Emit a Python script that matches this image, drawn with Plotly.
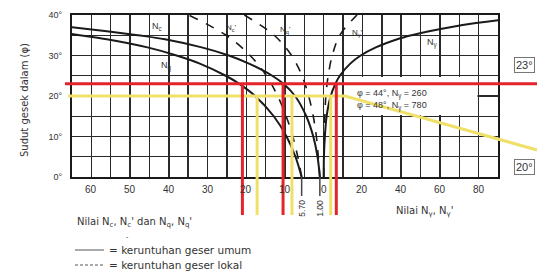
import plotly.graph_objects as go

# ---------------- data ----------------
phi_gen = [0, 5, 10, 15, 20, 23, 25, 28, 30, 32, 34, 35, 36, 37, 38, 39, 40]
Nc_gen = [5.7, 7.3, 9.6, 12.9, 17.7, 21.8, 25.3, 32.0, 38.0, 45.5, 56.0, 63.0, 70.0, 78.0, 86.0, 94.0, 102.0]
Nq_gen = [1.0, 1.6, 2.7, 4.5, 7.4, 10.4, 13.3, 19.3, 24.5, 31.5, 41.0, 48.0, 56.0, 65.0, 75.0, 85.0, 95.0]
Ng_gen = [0.0, 0.1, 0.6, 1.5, 3.6, 6.0, 8.3, 13.7, 19.1, 26.9, 38.0, 45.4, 54.4, 65.3, 78.6, 95.0, 115.3]

phi_loc = [0, 5, 10, 15, 20, 25, 30, 35, 40]
Nc_loc = [5.7, 6.7, 8.0, 9.7, 11.9, 14.8, 19.0, 25.2, 34.9]
Nq_loc = [1.0, 1.4, 1.9, 2.7, 3.9, 5.6, 8.3, 12.8, 20.5]
Ng_loc = [0.0, 0.07, 0.24, 0.57, 1.1, 2.3, 4.4, 8.3, 17.2]

# highlighted readings (red = 23 deg, yellow = 20 deg)
phi_sel = [23, 20]
Nc_sel = [21.0, 17.2]
Nq_sel = [10.5, 8.2]
Ng_sel = [6.5, 3.6]
sel_labels = ["23°", "20°"]

left_ticks = [60, 50, 40, 30, 20, 10, 0]
right_ticks = [20, 40, 60, 80]
special_ticks = [5.70, 1.00]
y_ticks = [0, 10, 20, 30, 40]

# ---------------- layout geometry ----------------
W, H = 547, 273
PX_L, PX_R, PY_T, PY_B = 72, 498, 15, 177
X_RANGE = [-65, 45]   # left half: -N (Nc, Nq); right half: N_gamma / 2
Y_RANGE = [0, 40]
xdom = [PX_L / W, PX_R / W]
ydom = [1 - PY_B / H, 1 - PY_T / H]


def uL(n):  # Nc / Nq value -> chart coordinate
    return -n


def uR(n):  # N_gamma value -> chart coordinate
    return n / 2.0


def xpap(u):
    return xdom[0] + (u - X_RANGE[0]) / (X_RANGE[1] - X_RANGE[0]) * (xdom[1] - xdom[0])


def ypap(phi):
    return ydom[0] + (phi - Y_RANGE[0]) / (Y_RANGE[1] - Y_RANGE[0]) * (ydom[1] - ydom[0])


RED = "#e3242b"
YEL = "#efe06a"
INK = "#1a1a1a"
FONT = "Liberation Sans"
FONT2 = "DejaVu Sans"

fig = go.Figure()


def curve(xs, ys, dash, width):
    fig.add_trace(go.Scatter(x=xs, y=ys, mode="lines", line_shape="spline",
                             line=dict(color=INK, width=width, dash=dash),
                             hoverinfo="skip", showlegend=False))


curve([uL(v) for v in Nc_gen], phi_gen, "solid", 2)
curve([uL(v) for v in Nq_gen], phi_gen, "solid", 2)
curve([uR(v) for v in Ng_gen], phi_gen, "solid", 2)
curve([uL(v) for v in Nc_loc], phi_loc, "dash", 1.6)
curve([uL(v) for v in Nq_loc], phi_loc, "dash", 1.6)
curve([uR(v) for v in Ng_loc], phi_loc, "dash", 1.6)

shapes = []
# white box under the phi=44/48 note (hides grid)
shapes.append(dict(type="rect", xref="x", yref="y", x0=uR(10.6), x1=uR(79.4), y0=15.3, y1=24.7,
                   fillcolor="white", line=dict(width=0), layer="between"))

# small ticks for 5.70 and 1.00 below the axis
for v in special_ticks:
    shapes.append(dict(type="line", xref="x", yref="paper", x0=uL(v), x1=uL(v),
                       y0=1 - 177 / H, y1=1 - 196 / H, line=dict(color="#444", width=1.5)))

# red guide (23 deg)
shapes.append(dict(type="line", xref="paper", yref="y", x0=65 / W, x1=537 / W,
                   y0=phi_sel[0], y1=phi_sel[0], line=dict(color=RED, width=3)))
# yellow guide (20 deg) -> leader to label
xc = xpap(uR(11))
shapes.append(dict(type="path", xref="paper", yref="paper",
                   path=f"M {68 / W} {ypap(phi_sel[1])} L {xc} {ypap(phi_sel[1])} L {537 / W} {1 - 150 / H}",
                   line=dict(color=YEL, width=3)))
for i, col in enumerate([RED, YEL]):
    for u in [uL(Nc_sel[i]), uL(Nq_sel[i]), uR(Ng_sel[i])]:
        shapes.append(dict(type="line", xref="x", yref="paper", x0=u, x1=u,
                           y0=ypap(phi_sel[i]), y1=1 - 215 / H, line=dict(color=col, width=3)))

# legend line samples
shapes.append(dict(type="line", xref="paper", yref="paper", x0=75 / W, x1=104 / W,
                   y0=1 - 250 / H, y1=1 - 250 / H, line=dict(color="#555", width=1)))
shapes.append(dict(type="line", xref="paper", yref="paper", x0=75 / W, x1=104 / W,
                   y0=1 - 265 / H, y1=1 - 265 / H, line=dict(color="#555", width=1, dash="3px,2px")))

ann = []


def txt(x, y, s, size=9, xref="paper", yref="paper", xanchor="center", angle=0, family=FONT, **kw):
    ann.append(dict(x=x, y=y, xref=xref, yref=yref, text=s, showarrow=False, xanchor=xanchor,
                    yanchor="middle", textangle=angle, font=dict(family=family, size=size, color="#333"), **kw))


# x tick labels
for v in left_ticks:
    txt(uL(v), 1 - 189 / H, str(v), 10, xref="x")
for v in right_ticks:
    txt(uR(v), 1 - 189 / H, str(v), 10, xref="x")
for v in special_ticks:
    txt(uL(v), 1 - 208 / H, f"{v:.2f}", 8.5, xref="x", angle=-90)

# y title
txt(24 / W, 1 - 100 / H, "Sudut gesek dalam (φ)", 10, angle=-90, family=FONT2)

# curve labels
txt(157 / W, 1 - 26 / H, "N<sub>c</sub>", 9)
txt(166 / W, 1 - 66 / H, "N<sub>q</sub>", 9)
txt(232 / W, 1 - 28 / H, "N<sub>c</sub>'", 8)
txt(285 / W, 1 - 30 / H, "N<sub>q</sub>'", 8)
txt(357 / W, 1 - 33 / H, "N<sub>γ</sub>'", 8)
txt(432 / W, 1 - 43 / H, "N<sub>γ</sub>", 9)

# note in box
txt(355 / W, 1 - 94 / H, "φ = 44°, N<sub>γ</sub> = 260", 9, xanchor="left")
txt(355 / W, 1 - 106 / H, "φ = 48°, N<sub>γ</sub> = 780", 9, xanchor="left")

# guide labels
for i, ypx in enumerate([65, 167]):
    ann.append(dict(x=514 / W, y=1 - ypx / H, xref="paper", yref="paper", text=sel_labels[i],
                    showarrow=False, xanchor="left", yanchor="middle",
                    font=dict(family=FONT, size=11, color="#333"),
                    bordercolor="#777", borderwidth=1, borderpad=1, bgcolor="white"))

# bottom captions
txt(425 / W, 1 - 211 / H, "Nilai N<sub>γ</sub>, N<sub>γ</sub>'", 10, family=FONT2)
txt(75 / W, 1 - 222 / H, "Nilai N<sub>c</sub>, N<sub>c</sub>' dan N<sub>q</sub>, N<sub>q</sub>'", 10, xanchor="left", family=FONT2)
txt(127 / W, 1 - 236 / H, "-", 7)
txt(107 / W, 1 - 250 / H, "= keruntuhan geser umum", 10.5, xanchor="left", family=FONT2)
txt(107 / W, 1 - 265 / H, "= keruntuhan geser lokal", 10.5, xanchor="left", family=FONT2)

fig.update_layout(
    width=W, height=H, margin=dict(l=0, r=0, t=0, b=0),
    paper_bgcolor="white", plot_bgcolor="white",
    shapes=shapes, annotations=ann, showlegend=False,
    xaxis=dict(domain=xdom, range=X_RANGE, tickmode="linear", tick0=0, dtick=5,
               showticklabels=False, ticks="", showgrid=True, gridcolor="#2a2a2a", gridwidth=1.4,
               zeroline=False, showline=True, linecolor=INK, linewidth=2, mirror=True, fixedrange=True),
    yaxis=dict(domain=ydom, range=Y_RANGE, tickmode="array", tickvals=y_ticks,
               ticktext=[f"{v}°" for v in y_ticks], tickfont=dict(family=FONT, size=9, color="#333"),
               ticks="", ticklabelstandoff=6, showgrid=True, gridcolor="#2a2a2a", gridwidth=1.4,
               minor=dict(dtick=5, showgrid=True, gridcolor="#2a2a2a", gridwidth=1.4),
               zeroline=False, showline=True, linecolor=INK, linewidth=2, mirror=True,
               automargin=False, fixedrange=True),
)

fig.write_html("out.html", config={"displayModeBar": False, "staticPlot": True},
               post_script="document.body.style.margin='0px';document.body.style.overflow='hidden';")
